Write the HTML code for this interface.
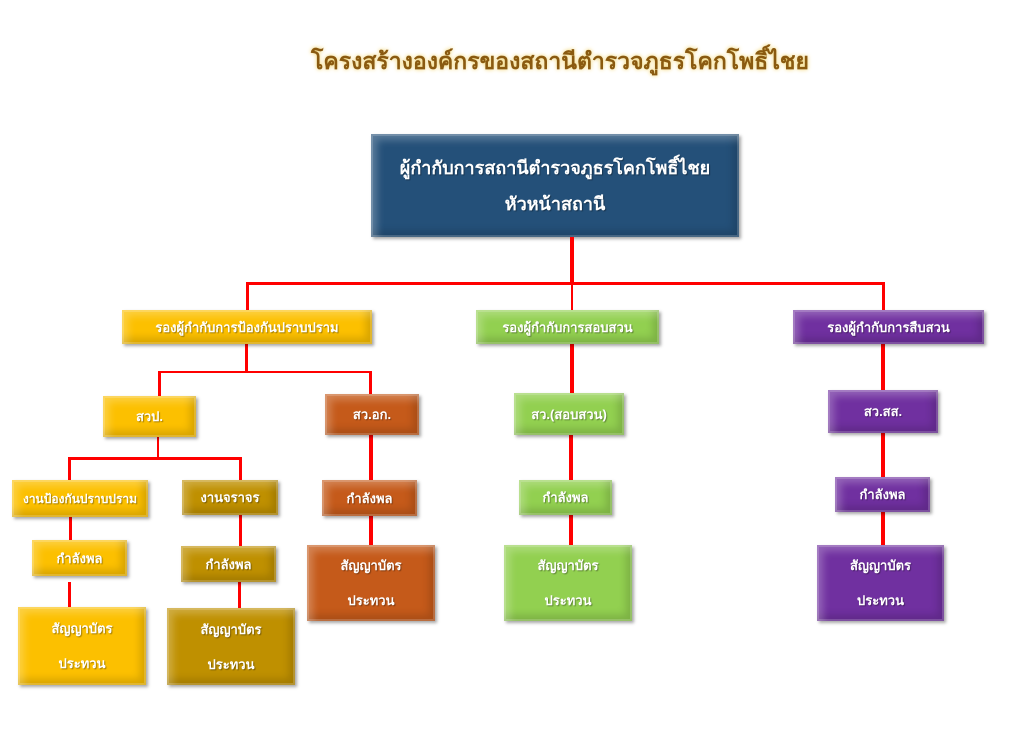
<!DOCTYPE html>
<html><head><meta charset="utf-8"><style>
body{margin:0;width:1024px;height:735px;background:#fff;position:relative;overflow:hidden;font-family:"Liberation Sans","DejaVu Sans",sans-serif}
.b{position:absolute;display:flex;flex-direction:column;align-items:center;justify-content:center;color:#fff;font-weight:bold;font-size:13px;text-align:center;box-sizing:border-box;box-shadow:inset 0 0 0 2px rgba(255,255,255,.18),inset 6px 6px 8px rgba(255,255,255,.25),inset -6px -6px 8px rgba(0,0,0,.15),2px 2px 3px rgba(0,0,0,.35);text-shadow:1px 1px 1px rgba(0,0,0,.35);line-height:1}
.b span{margin:11px 0}
.l{position:absolute;background:#f00}
.y{background:#fcc000}.g{background:#92d050}.p{background:#7030a0}.o{background:#c55a1a}.d{background:#bf9000}
</style></head><body>
<div style="position:absolute;left:250px;width:620px;top:44px;text-align:center;white-space:nowrap;font-size:23px;font-weight:bold;color:#8a5a10;text-shadow:0 0 4px #f0d060">โครงสร้างองค์กรของสถานีตำรวจภูธรโคกโพธิ์ไชย</div>
<div class="b" style="left:371px;top:134px;width:368px;height:103px;background:#245079;font-size:18px"><span style="margin:9px 0">ผู้กำกับการสถานีตำรวจภูธรโคกโพธิ์ไชย</span><span style="margin:9px 0">หัวหน้าสถานี</span></div>
<!-- lines -->
<div class="l" style="left:570px;top:237px;width:4px;height:47px"></div>
<div class="l" style="left:246px;top:282px;width:638px;height:3px"></div>
<div class="l" style="left:246px;top:282px;width:3px;height:28px"></div>
<div class="l" style="left:571px;top:282px;width:2px;height:28px"></div>
<div class="l" style="left:882px;top:282px;width:3px;height:28px"></div>
<div class="l" style="left:245px;top:344px;width:3px;height:28px"></div>
<div class="l" style="left:158px;top:371px;width:213px;height:2px"></div>
<div class="l" style="left:158px;top:371px;width:3px;height:25px"></div>
<div class="l" style="left:369px;top:371px;width:3px;height:23px"></div>
<div class="l" style="left:157px;top:437px;width:2px;height:21px"></div>
<div class="l" style="left:68px;top:457px;width:173px;height:3px"></div>
<div class="l" style="left:68px;top:457px;width:3px;height:23px"></div>
<div class="l" style="left:239px;top:457px;width:3px;height:23px"></div>
<div class="l" style="left:69px;top:517px;width:3px;height:23px"></div>
<div class="l" style="left:68px;top:582px;width:3px;height:25px"></div>
<div class="l" style="left:239px;top:515px;width:3px;height:31px"></div>
<div class="l" style="left:238px;top:582px;width:3px;height:26px"></div>
<div class="l" style="left:369px;top:435px;width:4px;height:45px"></div>
<div class="l" style="left:369px;top:516px;width:4px;height:29px"></div>
<div class="l" style="left:570px;top:344px;width:4px;height:49px"></div>
<div class="l" style="left:569px;top:435px;width:4px;height:45px"></div>
<div class="l" style="left:569px;top:515px;width:4px;height:30px"></div>
<div class="l" style="left:881px;top:344px;width:4px;height:46px"></div>
<div class="l" style="left:881px;top:433px;width:4px;height:44px"></div>
<div class="l" style="left:881px;top:512px;width:4px;height:33px"></div>
<!-- level 2 -->
<div class="b y" style="left:122px;top:310px;width:250px;height:34px">รองผู้กำกับการป้องกันปราบปราม</div>
<div class="b g" style="left:476px;top:310px;width:183px;height:34px">รองผู้กำกับการสอบสวน</div>
<div class="b p" style="left:793px;top:310px;width:191px;height:34px">รองผู้กำกับการสืบสวน</div>
<!-- level 3 -->
<div class="b y" style="left:103px;top:396px;width:93px;height:41px">สวป.</div>
<div class="b o" style="left:325px;top:394px;width:94px;height:41px">สว.อก.</div>
<div class="b g" style="left:514px;top:393px;width:110px;height:42px">สว.(สอบสวน)</div>
<div class="b p" style="left:828px;top:390px;width:110px;height:43px">สว.สส.</div>
<div class="b y" style="left:12px;top:480px;width:136px;height:37px;font-size:12px">งานป้องกันปราบปราม</div>
<div class="b d" style="left:182px;top:480px;width:96px;height:35px">งานจราจร</div>
<div class="b y" style="left:32px;top:540px;width:95px;height:36px">กำลังพล</div>
<div class="b d" style="left:181px;top:546px;width:95px;height:36px">กำลังพล</div>
<div class="b o" style="left:322px;top:480px;width:95px;height:36px">กำลังพล</div>
<div class="b g" style="left:519px;top:480px;width:93px;height:35px">กำลังพล</div>
<div class="b p" style="left:835px;top:477px;width:95px;height:35px">กำลังพล</div>
<div class="b y" style="left:18px;top:607px;width:128px;height:78px"><span>สัญญาบัตร</span><span>ประทวน</span></div>
<div class="b d" style="left:167px;top:608px;width:128px;height:77px"><span>สัญญาบัตร</span><span>ประทวน</span></div>
<div class="b o" style="left:307px;top:545px;width:128px;height:76px"><span>สัญญาบัตร</span><span>ประทวน</span></div>
<div class="b g" style="left:504px;top:545px;width:128px;height:76px"><span>สัญญาบัตร</span><span>ประทวน</span></div>
<div class="b p" style="left:817px;top:545px;width:127px;height:76px"><span>สัญญาบัตร</span><span>ประทวน</span></div>
</body></html>
